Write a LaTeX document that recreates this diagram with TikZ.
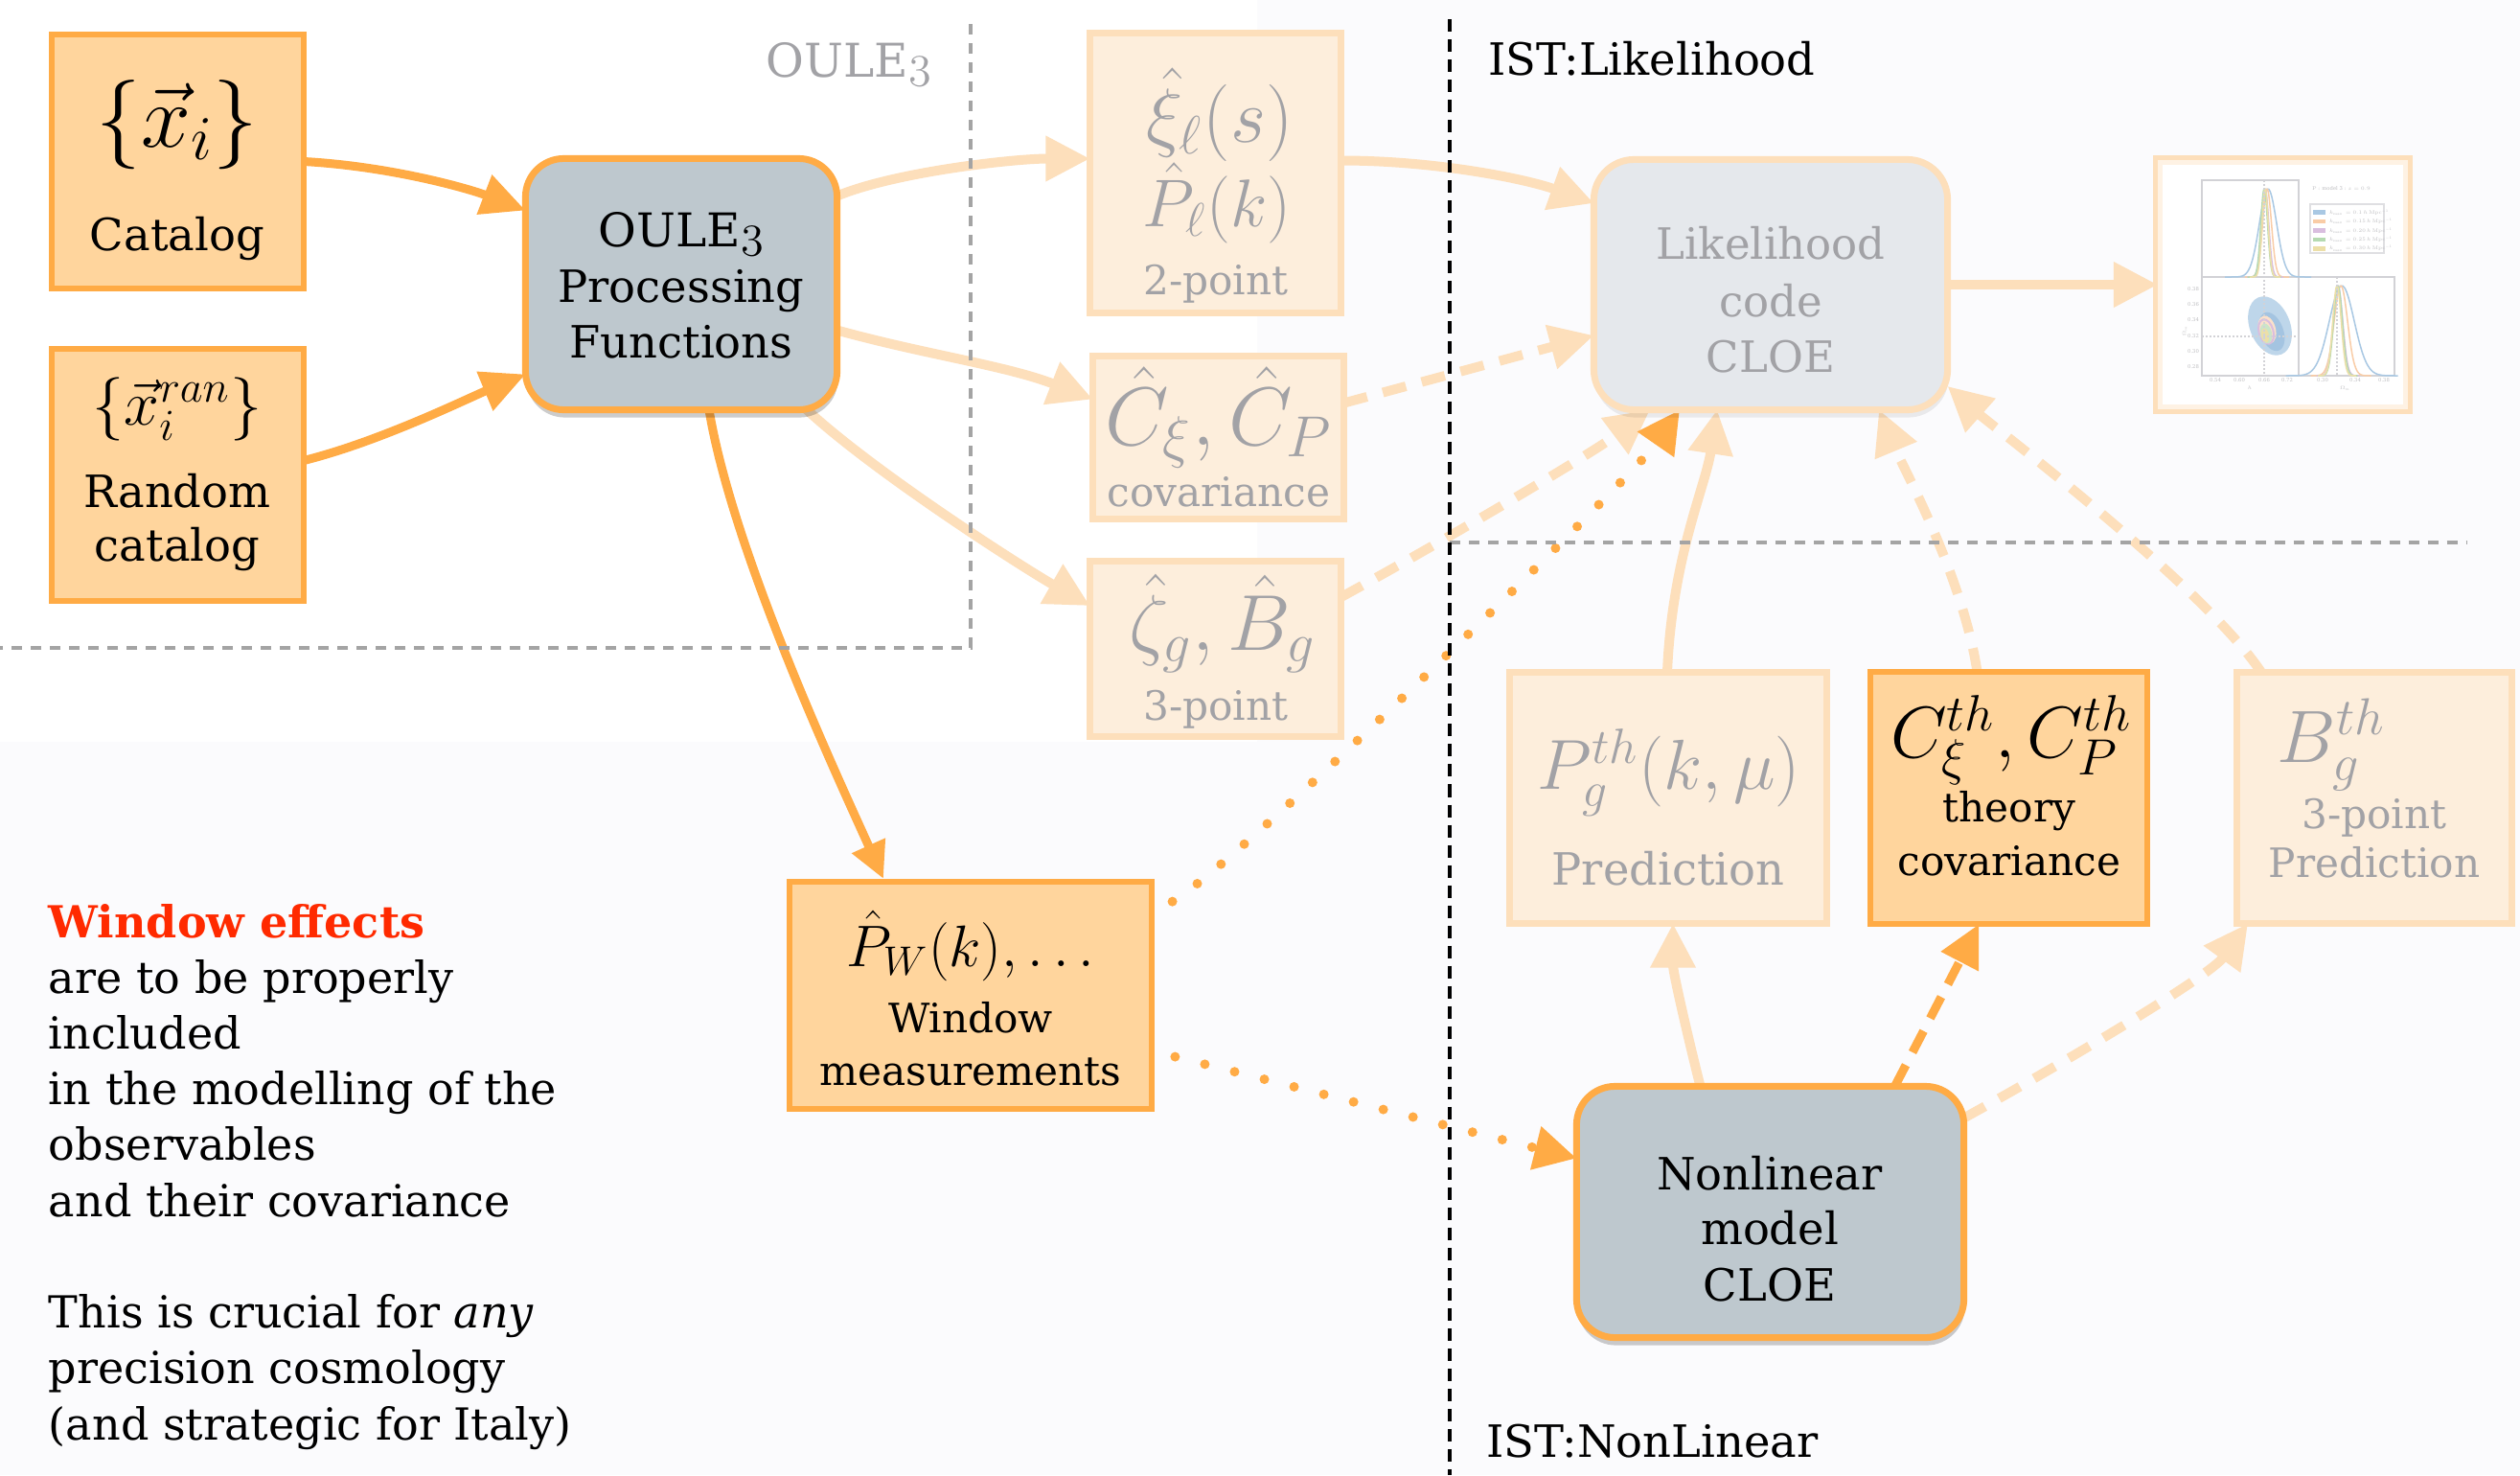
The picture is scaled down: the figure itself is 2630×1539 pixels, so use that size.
\RequirePackage{fix-cm}
\documentclass[tikz,border=0pt]{standalone}
\usepackage[no-math]{fontspec}
\setmainfont{DejaVu Serif}
\usetikzlibrary{arrows.meta,calc,shadows}

\definecolor{orng}{HTML}{FFAB45}
\definecolor{orngfill}{HTML}{FFD59D}
\definecolor{peach}{HTML}{FDDFBB}
\definecolor{peachfill}{HTML}{FDEEDC}
\definecolor{peachlite}{HTML}{FEF2E4}
\definecolor{slate}{HTML}{BEC8CE}
\definecolor{paleslate}{HTML}{E5E8EC}
\definecolor{fadetext}{HTML}{A2A2A6}
\definecolor{rulegray}{HTML}{A4A4A4}
\definecolor{winred}{HTML}{FF2A00}
\definecolor{bgtint}{HTML}{FBFBFD}
\definecolor{axisgray}{HTML}{D2D2D6}
\definecolor{cblue}{HTML}{A9C8E3}
\definecolor{cbluedk}{HTML}{8DB5D9}
\definecolor{corange}{HTML}{F9CCA6}
\definecolor{cpurple}{HTML}{D9BEDF}
\definecolor{cgreen}{HTML}{B5DAB1}
\definecolor{cyellow}{HTML}{ECDFA8}

\newcommand\fsz[1]{\fontsize{#1}{#1}\selectfont}
\newcommand\oldfig[1]{{\usefont{OML}{cmm}{m}{it}#1}}

\pgfdeclarelayer{back}
\pgfdeclarelayer{links}
\pgfdeclarelayer{rules}
\pgfsetlayers{back,links,rules,main}

\begin{document}
\begin{tikzpicture}[x=0.01cm, y=-0.01cm,
  every node/.style={inner sep=0pt, outer sep=0pt},
  obox/.style={draw=orng, fill=orngfill, line width=0.06cm},
  fbox/.style={draw=peach, fill=peachfill, line width=0.07cm},
  rbox/.style={draw=orng, fill=slate, line width=0.07cm, rounded corners=0.4cm,
    drop shadow={shadow xshift=0.01cm, shadow yshift=-0.08cm, opacity=0.2, fill=black}},
  lbox/.style={draw=peach, fill=paleslate, line width=0.07cm, rounded corners=0.42cm,
    drop shadow={shadow xshift=0.01cm, shadow yshift=-0.08cm, opacity=0.07, fill=black}},
  lbl/.style={anchor=base, font=\fsz{13.2}},
  sml/.style={anchor=base, font=\fsz{12}},
  dim/.style={text=fadetext},
  oarrow/.style={draw=orng, line width=0.09cm, -{Triangle[length=0.46cm, width=0.42cm]}},
  parrow/.style={draw=peach, line width=0.1cm, -{Triangle[length=0.46cm, width=0.45cm]}},
  pdash/.style={parrow, dash pattern=on 0.25cm off 0.17cm},
  odash/.style={draw=orng, line width=0.09cm, dash pattern=on 0.25cm off 0.15cm,
    -{Triangle[length=0.44cm, width=0.42cm]}},
  odot/.style={draw=orng, line width=0.1cm, line cap=round, dash pattern=on 0pt off 0.32cm,
    -{Triangle[length=0.44cm, width=0.44cm]}},
  divider/.style={draw=rulegray, line width=0.045cm, dash pattern=on 0.11cm off 0.09cm},
  tick/.style={font=\fsz{1.5}, text=fadetext!70},
]
\useasboundingbox (0,0) rectangle (2630,1539);
\begin{pgfonlayer}{back}
  \fill[bgtint] (0,0) rectangle (2630,1539);
  \fill[white] (0,0) rectangle (1312,774);
\end{pgfonlayer}

% ---------- inputs ----------
\node[obox, minimum width=2.63cm, minimum height=2.65cm] (cat) at (185.5,168.5) {};
\node[lbl, font=\fsz{26.5}] (catm) at (185,153) {$\{\vec{x}_i\}$};
\node[lbl] (catt) at (185,261) {Catalog};

\node[obox, minimum width=2.63cm, minimum height=2.63cm] (ran) at (185.5,495.5) {};
\node[lbl, font=\fsz{18.8}] (ranm) at (185,443) {$\{\vec{x}_i^{ran}\}$};
\node[lbl] (rant1) at (185,529) {Random};
\node[lbl] (rant2) at (185,585) {catalog};

% ---------- processing ----------
\node[rbox, minimum width=3.25cm, minimum height=2.62cm] (proc) at (711,296.5) {};
\node[lbl, font=\fsz{13.8}] (proct1) at (711,257) {OULE\oldfig{3}};
\node[lbl] (proct2) at (711,315) {Processing};
\node[lbl] (proct3) at (711,373) {Functions};
\node[lbl, dim, font=\fsz{13.8}] (oulelbl) at (886,80) {OULE\oldfig{3}};

% ---------- measured statistics ----------
\node[fbox, minimum width=2.62cm, minimum height=2.92cm] (twopt) at (1268.5,180.5) {};
\node[lbl, dim, font=\fsz{22.8}] (twoptm1) at (1273,148) {$\hat{\xi}_\ell(s)$};
\node[lbl, dim, font=\fsz{20}] (twoptm2) at (1270,236) {$\hat{P}_\ell(k)$};
\node[sml, dim] (twoptt) at (1269,307) {2-point};

\node[fbox, minimum width=2.62cm, minimum height=1.70cm] (cov) at (1271.5,456.5) {};
\node[lbl, dim, font=\fsz{24.5}] (covm) at (1272,464) {$\hat{C}_\xi, \hat{C}_P$};
\node[sml, dim] (covt) at (1272,528) {covariance};

\node[fbox, minimum width=2.62cm, minimum height=1.83cm] (three) at (1268.5,677) {};
\node[lbl, dim, font=\fsz{23.5}] (threem) at (1276,678) {$\hat{\zeta}_g, \hat{B}_g$};
\node[sml, dim] (threet) at (1269,751) {3-point};

% ---------- window ----------
\node[obox, minimum width=3.78cm, minimum height=2.37cm] (win) at (1013,1038.5) {};
\node[lbl, font=\fsz{17.4}] (winm) at (1013,1008) {$\hat{P}_W(k), \ldots$};
\node[sml] (wint1) at (1013,1077) {Window};
\node[sml] (wint2) at (1013,1132) {measurements};

% ---------- likelihood ----------
\node[lbox, minimum width=3.69cm, minimum height=2.61cm] (like) at (1848,297) {};
\node[lbl, dim, font=\fsz{12.8}] (liket1) at (1848,270) {Likelihood};
\node[lbl, dim, font=\fsz{12.8}] (liket2) at (1848,330) {code};
\node[lbl, dim, font=\fsz{12.8}] (liket3) at (1848,388) {CLOE};

% ---------- theory ----------
\node[fbox, minimum width=3.31cm, minimum height=2.62cm] (pth) at (1741,832.5) {};
\node[lbl, dim, font=\fsz{21}] (pthm) at (1742,823) {$P_g^{th}(k,\mu)$};
\node[lbl, dim] (ptht) at (1741,923) {Prediction};

\node[obox, minimum width=2.89cm, minimum height=2.63cm] (cth) at (2096.5,832.5) {};
\node[lbl, font=\fsz{21.6}] (cthm) at (2099,790) {$C_\xi^{th}, C_P^{th}$};
\node[sml] (ctht1) at (2097,857) {theory};
\node[sml] (ctht2) at (2097,913) {covariance};

\node[fbox, minimum width=2.87cm, minimum height=2.62cm] (bth) at (2478,832.5) {};
\node[lbl, dim, font=\fsz{22}] (bthm) at (2433,795) {$B_g^{th}$};
\node[sml, dim] (btht1) at (2478,864) {3-point};
\node[sml, dim] (btht2) at (2478,915) {Prediction};

\node[rbox, minimum width=4.04cm, minimum height=2.62cm] (nonlin) at (1847.5,1264.5) {};
\node[lbl] (nonlint1) at (1847,1241) {Nonlinear};
\node[lbl] (nonlint2) at (1847,1298) {model};
\node[lbl] (nonlint3) at (1847,1357) {CLOE};

% ---------- section titles ----------
\node[lbl, anchor=base west] (istl) at (1553,78) {IST:Likelihood};
\node[lbl, anchor=base west] (istn) at (1551,1520) {IST:NonLinear};

\node[anchor=north west, align=left, font=\fontsize{13.1}{16.56}\selectfont] (note) at (51,943)
  {\textcolor{winred}{\bfseries Window effects}\\
   are to be properly\\
   included\\
   in the modelling of the\\
   observables\\
   and their covariance\\[16.56pt]
   This is crucial for \emph{any}\\
   precision cosmology\\
   (and strategic for Italy)};

% ---------- posterior plot ----------
\node[draw=peach, line width=0.1cm, fill=white, minimum width=2.61cm, minimum height=2.60cm] (plot) at (2382.5,297) {};
\draw[peachlite, line width=0.05cm] (2254.5,169.5) rectangle (2510.5,424.5);
\begin{scope}[line width=0.012cm]
  \draw[axisgray] (2298,188) rectangle (2399,289);
  \draw[axisgray] (2298,289) rectangle (2399,392);
  \draw[axisgray] (2399,289) rectangle (2499,392);
  % 2D contours
  \fill[cblue!75, rotate around={22:(2369,340)}] (2369,340) ellipse [x radius=0.21cm, y radius=0.32cm];
  \fill[cbluedk!80, rotate around={20:(2371,346)}] (2371,346) ellipse [x radius=0.12cm, y radius=0.21cm];
  \fill[corange!60, rotate around={15:(2366,344)}] (2366,344) ellipse [x radius=0.09cm, y radius=0.15cm];
  \draw[cpurple, line width=0.02cm, rotate around={15:(2365,346)}] (2365,346) ellipse [x radius=0.075cm, y radius=0.13cm];
  \fill[cgreen!70, rotate around={12:(2365,348)}] (2365,348) ellipse [x radius=0.06cm, y radius=0.105cm];
  \fill[cyellow, rotate around={10:(2364,350)}] (2364,350) ellipse [x radius=0.04cm, y radius=0.075cm];
  % marginals
  \foreach \pcol/\pmid/\pwid in {cblue/2367/9, corange/2366/4.6, cpurple/2364/3.8, cgreen/2363/3.5, cyellow/2364/3.2}
    \draw[\pcol, line width=0.015cm] plot[domain={\pmid-5*\pwid}:{\pmid+5*\pwid}, samples=60, smooth]
      (\x, {289-92*exp(-((\x-\pmid)^2)/(2*\pwid*\pwid))});
  \foreach \pcol/\pmid/\pwid in {cblue/2444/13, corange/2443/7, cpurple/2440/5, cgreen/2440/4.6, cyellow/2439/4.4}
    \draw[\pcol, line width=0.015cm] plot[domain={\pmid-4.5*\pwid}:{\pmid+4.5*\pwid}, samples=60, smooth]
      (\x, {392-94*exp(-((\x-\pmid)^2)/(2*\pwid*\pwid))});
  \draw[axisgray, dash pattern=on 0.02cm off 0.02cm] (2363,188) -- (2363,392);
  \draw[axisgray, dash pattern=on 0.02cm off 0.02cm] (2298,351) -- (2399,351);
  \draw[axisgray, dash pattern=on 0.02cm off 0.02cm] (2439,289) -- (2439,392);
  % legend
  \node[tick, anchor=west] (ptitle) at (2413,197) {$\mathrm{P}$ : model 3 : $z=0.9$};
  \draw[axisgray!70] (2411,213) rectangle (2488,264);
  \foreach \pcol/\kval [count=\i] in {cblue/0.1, corange/0.15, cpurple/0.20, cgreen/0.25, cyellow/0.30}{
    \fill[\pcol] (2414,{210+9.4*\i}) rectangle (2427,{214.5+9.4*\i});
    \node[tick, anchor=west] (leg\i) at (2431,{212.2+9.4*\i}) {$k_{\max}=\kval\,h\,\mathrm{Mpc}^{-1}$};
  }
  % tick labels
  \foreach \tx/\tl in {2312/0.54, 2337/0.60, 2363/0.66, 2387/0.72, 2424/0.30, 2458/0.34, 2488/0.38}
    \node[tick] at (\tx,397) {\tl};
  \foreach \ty/\tl in {302/0.38, 318/0.36, 334/0.34, 351/0.32, 367/0.30, 383/0.28}
    \node[tick] at (2289,\ty) {\tl};
  \node[tick] (xlab1) at (2348,405) {$h$};
  \node[tick] (xlab2) at (2448,405) {$\Omega_m$};
  \node[tick, rotate=90] (ylab) at (2280,345) {$\Omega_m$};
\end{scope}

% ---------- connectors ----------
\begin{pgfonlayer}{links}
  \draw[oarrow] (cat.east) .. controls +(90,5) and +(-60,-23) .. ($(proc.west)+(0,-77)$);
  \draw[oarrow] ($(ran.east)+(0,-15)$) .. controls +(80,-20) and +(-60,25) .. ($(proc.west)+(0,94)$);
  \draw[oarrow, -{Triangle[length=0.38cm, width=0.36cm]}]
    ($(proc.south)+(29,0)$) .. controls +(25,150) and +(-45,-100) .. ($(win.north)+(-91,-3)$);

  \draw[parrow] ($(proc.east)+(0,-92)$) .. controls +(60,-25) and +(-80,0) .. ($(twopt.west)+(0,-15)$);
  \draw[parrow] ($(proc.east)+(0,48)$) .. controls +(90,25) and +(-90,-35) .. ($(cov.west)+(0,-40)$);
  \draw[parrow] (proc.-45) .. controls +(70,65) and +(-70,-40) .. ($(three.west)+(0,-45)$);

  \draw[parrow] ($(twopt.east)+(0,-13)$) .. controls +(100,0) and +(-70,-25) .. ($(like.west)+(0,-85)$);
  \draw[pdash] ($(cov.east)+(0,-36)$) -- ($(like.west)+(0,53)$);
  \draw[pdash] ($(three.east)+(0,-54)$) .. controls +(110,-60) and +(-60,45) .. ($(like.south)+(-126,0)$);
  \draw[parrow] (like.east) -- (plot.west);

  \draw[odot, shorten <=0.25cm] ($(win.east)+(0,-85)$) .. controls +(100,-60) and +(-45,65) .. ($(like.south)+(-95,0)$);
  \draw[odot, shorten <=0.25cm] ($(win.east)+(0,58)$) .. controls +(120,30) and +(-120,-30) .. ($(nonlin.west)+(0,-56)$);

  \draw[parrow] ($(pth.north)+(-1,0)$) .. controls +(5,-120) and +(-12,80) .. ($(like.south)+(-56,0)$);
  \draw[pdash] ($(cth.north)+(-33,0)$) .. controls +(-15,-100) and +(25,60) .. ($(like.south)+(113,0)$);
  \draw[pdash] ($(bth.north)+(-118,0)$) .. controls +(-60,-90) and +(45,40) .. ($(like.east)+(0,106)$);

  \draw[parrow] ($(nonlin.north)+(-73,0)$) .. controls +(-15,-60) and +(0,50) .. ($(pth.south)+(5,0)$);
  \draw[odash] ($(nonlin.north)+(130,0)$) -- ($(cth.south)+(-31,0)$);
  \draw[pdash] ($(nonlin.east)+(0,-98)$) .. controls +(100,-55) and +(-40,55) .. ($(bth.south)+(-132,0)$);
\end{pgfonlayer}

% ---------- region rules ----------
\begin{pgfonlayer}{rules}
  \draw[divider] (1013,25) -- (1013,676) -- (0,676);
  \draw[divider] (1513,566) -- (2575,566);
  \draw[black, line width=0.04cm, dash pattern=on 0.13cm off 0.08cm] (1513,20) -- (1513,1539);
\end{pgfonlayer}
\end{tikzpicture}
\end{document}
